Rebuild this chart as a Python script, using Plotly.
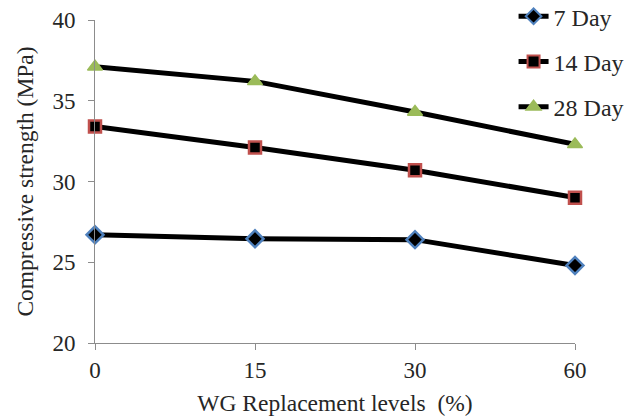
import plotly.graph_objects as go

categories = ["0", "15", "30", "60"]
day7 = [26.7, 26.45, 26.4, 24.8]
day14 = [33.4, 32.1, 30.7, 29.0]
day28 = [37.1, 36.2, 34.3, 32.3]
series_names = ["7 Day", "14 Day", "28 Day"]

FONT = "Liberation Serif, Times New Roman, serif"

fig = go.Figure()
styles = [
    dict(symbol="diamond", size=13, color="black", line=dict(color="#4F81BD", width=2.5)),
    dict(symbol="square", size=12, color="black", line=dict(color="#C0504D", width=2.5)),
    dict(symbol="triangle-up", size=13, color="#9BBB59", line=dict(color="#9BBB59", width=1.5)),
]
for i, (name, vals, mk) in enumerate(zip(series_names, [day7, day14, day28], styles)):
    fig.add_trace(go.Scatter(
        x=categories, y=vals, name=name, mode="lines+markers",
        line=dict(color="black", width=5),
        marker=mk, cliponaxis=False, legendgroup=f"g{i}",
    ))

axis_common = dict(
    showline=True, linecolor="#8C8C8C", linewidth=1,
    ticks="outside", tickcolor="#8C8C8C", ticklen=6,
    showgrid=False, zeroline=False,
    tickfont=dict(family=FONT, size=23, color="#262626"),
)

fig.update_layout(
    width=629, height=419,
    margin=dict(l=95, r=54, t=20, b=76, autoexpand=False),
    paper_bgcolor="white", plot_bgcolor="white",
    font=dict(family=FONT, color="#262626"),
    xaxis=dict(
        type="category", range=[0, 3],
        title=dict(text="WG Replacement levels  (%)", font=dict(family=FONT, size=23.5), standoff=12),
        **axis_common,
    ),
    yaxis=dict(
        range=[20, 40], dtick=5, ticklabelstandoff=8,
        title=dict(text="Compressive strength (MPa)", font=dict(family=FONT, size=23.5), standoff=12),
        **axis_common,
    ),
    legend=dict(
        x=0.872, y=1.08, xanchor="left", yanchor="top",
        font=dict(family=FONT, size=24, color="#262626"),
        bgcolor="rgba(255,255,255,0)",
        tracegroupgap=11, itemsizing="constant",
    ),
    showlegend=True,
)

fig.write_html("out.html", post_script="document.body.style.margin='0';",
               config={"displayModeBar": False})
